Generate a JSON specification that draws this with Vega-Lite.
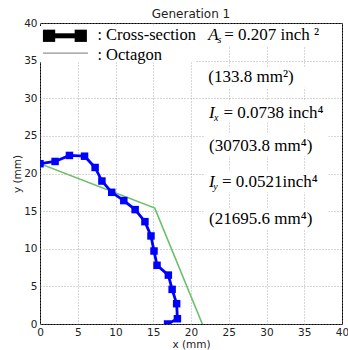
{
  "$schema": "https://vega.github.io/schema/vega-lite/v6.json",
  "width": 302,
  "height": 301,
  "autosize": {"type": "none"},
  "padding": {"left": 40, "top": 23, "right": 6, "bottom": 26},
  "background": "white",
  "title": {"text": "Generation 1", "font": "DejaVu Sans", "fontSize": 12, "fontWeight": "normal", "color": "#222", "offset": -3},
  "datasets": {
    "cross": [
      {"i": 1, "x": 0.0, "y": 21.3}, {"i": 2, "x": 2.0, "y": 21.6}, {"i": 3, "x": 3.9, "y": 22.4},
      {"i": 4, "x": 5.9, "y": 22.3}, {"i": 5, "x": 7.3, "y": 20.8}, {"i": 6, "x": 8.2, "y": 19.0},
      {"i": 7, "x": 9.5, "y": 17.5}, {"i": 8, "x": 11.1, "y": 16.4}, {"i": 9, "x": 12.6, "y": 15.2},
      {"i": 10, "x": 13.9, "y": 13.6}, {"i": 11, "x": 14.7, "y": 11.7}, {"i": 12, "x": 15.1, "y": 9.7},
      {"i": 13, "x": 15.5, "y": 7.8}, {"i": 14, "x": 17.0, "y": 6.5}, {"i": 15, "x": 17.5, "y": 4.6},
      {"i": 16, "x": 18.1, "y": 2.7}, {"i": 17, "x": 18.2, "y": 0.7}, {"i": 18, "x": 16.9, "y": 0.0}
    ],
    "octagon": [
      {"i": 1, "x": 0.0, "y": 21.3}, {"i": 2, "x": 15.2, "y": 15.4}, {"i": 3, "x": 21.5, "y": 0.0}
    ],
    "boxes": [
      {"x": 0.0, "x2": 20.5, "y": 34.8, "y2": 39.6},
      {"x": 21.9, "x2": 38.2, "y": 36.9, "y2": 39.8},
      {"x": 21.9, "x2": 38.2, "y": 31.4, "y2": 34.2},
      {"x": 21.9, "x2": 38.2, "y": 26.7, "y2": 29.6},
      {"x": 21.9, "x2": 38.2, "y": 22.3, "y2": 25.2},
      {"x": 21.9, "x2": 38.2, "y": 17.5, "y2": 20.4},
      {"x": 21.9, "x2": 38.2, "y": 12.5, "y2": 15.4}
    ],
    "legendCross": [{"x": 1.2, "y": 38.3}, {"x": 5.4, "y": 38.3}],
    "legendOct": [{"x": 0.4, "y": 36.0}, {"x": 6.35, "y": 36.0}],
    "legendColon": [
      {"x": 7.6, "y": 38.4, "label": ":"},
      {"x": 7.6, "y": 35.8, "label": ":"}
    ],
    "legendText": [
      {"x": 8.75, "y": 38.4, "label": "Cross-section"},
      {"x": 8.75, "y": 35.8, "label": "Octagon"}
    ],
    "annPlain": [
      {"x": 24.4, "y": 38.4, "label": "= 0.207 inch ²"},
      {"x": 22.3, "y": 32.8, "label": "(133.8 mm²)"},
      {"x": 24.3, "y": 28.1, "label": "= 0.0738 inch⁴"},
      {"x": 22.4, "y": 23.7, "label": "(30703.8 mm⁴)"},
      {"x": 24.1, "y": 18.9, "label": "= 0.0521inch⁴"},
      {"x": 22.4, "y": 13.9, "label": "(21695.6 mm⁴)"}
    ],
    "annItalic": [
      {"x": 22.3, "y": 38.4, "label": "A"},
      {"x": 22.4, "y": 28.1, "label": "I"},
      {"x": 22.4, "y": 18.9, "label": "I"}
    ],
    "annSub": [
      {"x": 23.5, "y": 38.4, "label": "s"},
      {"x": 23.05, "y": 28.1, "label": "x"},
      {"x": 22.95, "y": 18.9, "label": "y"}
    ]
  },
  "encoding": {
    "x": {"field": "x", "type": "quantitative", "scale": {"domain": [0, 40], "nice": false, "zero": false},
          "axis": {"title": "x (mm)", "values": [0, 5, 10, 15, 20, 25, 30, 35, 40]}},
    "y": {"field": "y", "type": "quantitative", "scale": {"domain": [0, 40], "nice": false, "zero": false},
          "axis": {"title": "y (mm)", "values": [0, 5, 10, 15, 20, 25, 30, 35, 40]}}
  },
  "layer": [
    {"data": {"name": "boxes"}, "mark": {"type": "rect", "color": "white", "stroke": null},
     "encoding": {"x2": {"field": "x2"}, "y2": {"field": "y2"}}},
    {"data": {"name": "octagon"}, "mark": {"type": "line", "color": "#6cbf6c", "strokeWidth": 1.6, "clip": true},
     "encoding": {"order": {"field": "i"}}},
    {"data": {"name": "cross"}, "mark": {"type": "line", "color": "#0000ff", "strokeWidth": 2.8, "clip": true,
       "point": {"shape": "square", "size": 56, "filled": true, "color": "#0000ff", "opacity": 1}},
     "encoding": {"order": {"field": "i"}}},
    {"data": {"name": "legendCross"}, "mark": {"type": "line", "color": "black", "strokeWidth": 5,
       "point": {"shape": "square", "size": 150, "filled": true, "color": "black", "opacity": 1}},
     "encoding": {}},
    {"data": {"name": "legendOct"}, "mark": {"type": "line", "color": "#777", "strokeWidth": 1},
     "encoding": {}},
    {"data": {"name": "legendColon"}, "mark": {"type": "text", "font": "Liberation Serif", "fontSize": 16, "align": "left", "baseline": "middle", "color": "black"},
     "encoding": {"text": {"field": "label"}}},
    {"data": {"name": "legendText"}, "mark": {"type": "text", "font": "Liberation Serif", "fontSize": 16.5, "align": "left", "baseline": "middle", "color": "black"},
     "encoding": {"text": {"field": "label"}}},
    {"data": {"name": "annPlain"}, "mark": {"type": "text", "font": "Liberation Serif", "fontSize": 17, "align": "left", "baseline": "middle", "color": "black"},
     "encoding": {"text": {"field": "label"}}},
    {"data": {"name": "annItalic"}, "mark": {"type": "text", "font": "Liberation Serif", "fontSize": 17, "fontStyle": "italic", "align": "left", "baseline": "middle", "color": "black"},
     "encoding": {"text": {"field": "label"}}},
    {"data": {"name": "annSub"}, "mark": {"type": "text", "font": "Liberation Serif", "fontSize": 10, "fontStyle": "italic", "align": "left", "baseline": "middle", "dy": 5, "color": "black"},
     "encoding": {"text": {"field": "label"}}}
  ],
  "config": {
    "view": {"stroke": "#000", "strokeWidth": 1},
    "axis": {
      "domain": false, "ticks": false, "grid": true, "gridColor": "#999", "gridDash": [1, 2], "gridWidth": 0.8,
      "labelFont": "DejaVu Sans", "labelFontSize": 10.5, "labelColor": "#222", "labelPadding": 3,
      "titleFont": "DejaVu Sans", "titleFontSize": 10.5, "titleFontWeight": "normal", "titleColor": "#222"
    },
    "axisX": {"titlePadding": 2, "labelFlush": false},
    "axisY": {"titlePadding": 1, "labelFlush": false}
  }
}
